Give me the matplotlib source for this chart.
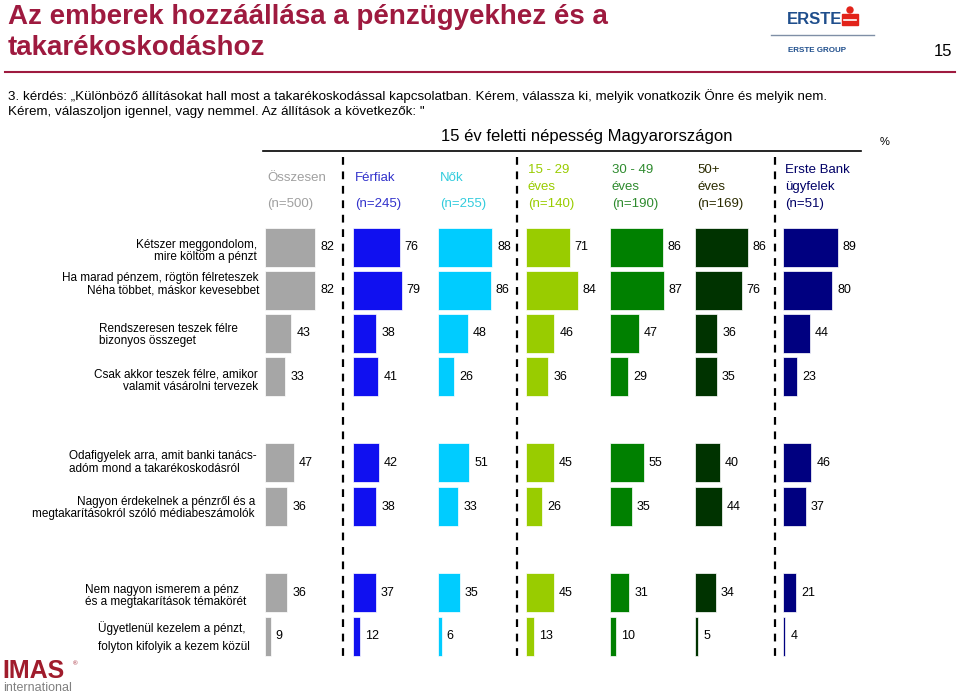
import numpy as np
import matplotlib
matplotlib.use("Agg")
import matplotlib.pyplot as plt

plt.rcParams['font.family'] = ['Liberation Sans', 'DejaVu Sans']

# survey answers, % of "yes"
statements = [
    "Kétszer meggondolom,\nmire költöm a pénzt",
    "Ha marad pénzem, rögtön félreteszek\nNéha többet, máskor kevesebbet",
    "Rendszeresen teszek félre\nbizonyos összeget",
    "Csak akkor teszek félre, amikor\nvalamit vásárolni tervezek",
    "Odafigyelek arra, amit banki tanács-\nadóm mond a takarékoskodásról",
    "Nagyon érdekelnek a pénzről és a\nmegtakarításokról szóló médiabeszámolók",
    "Nem nagyon ismerem a pénz\nés a megtakarítások témakörét",
    "Ügyetlenül kezelem a pénzt,\nfolyton kifolyik a kezem közül",
]
groups = ["Összesen", "Férfiak", "Nők", "15 - 29\néves", "30 - 49\néves", "50+\néves", "Erste Bank\nügyfelek"]
sample_sizes = ["(n=500)", "(n=245)", "(n=255)", "(n=140)", "(n=190)", "(n=169)", "(n=51)"]

osszesen = [82, 82, 43, 33, 47, 36, 36, 9]
ferfiak = [76, 79, 38, 41, 42, 38, 37, 12]
nok = [88, 86, 48, 26, 51, 33, 35, 6]
age_15_29 = [71, 84, 46, 36, 45, 26, 45, 13]
age_30_49 = [86, 87, 47, 29, 55, 35, 31, 10]
age_50_plus = [86, 76, 36, 35, 40, 44, 34, 5]
erste_ugyfelek = [89, 80, 44, 23, 46, 37, 21, 4]
series = [osszesen, ferfiak, nok, age_15_29, age_30_49, age_50_plus, erste_ugyfelek]

bar_colors = ["#A6A6A6", "#1010F0", "#00CCFF", "#99CC00", "#008000", "#003300", "#000080"]
head_colors = ["#A0A0A0", "#3333CC", "#33CCDD", "#99CC00", "#2E8B2E", "#2B2B00", "#000066"]
title_red = "#9E1A3F"

# layout (pixels of the 960x693 slide)
col_x = [265, 353, 438, 526, 610, 695, 783]
row_y = [247.5, 290, 333.5, 376.5, 462.5, 506.5, 592.5, 636]
px_per_pct = 0.615
bar_h = 39
label_pos = [(257, 'right', 251), (259, 'right', 284.5), (99, 'left', 335), (258, 'right', 381),
             (69, 'left', 462.5), (255, 'right', 508), (85, 'left', 596), (98, 'left', 637)]

fig = plt.figure(figsize=(9.6, 6.93), dpi=100)
ax = fig.add_axes([0, 0, 1, 1])
ax.set_xlim(0, 960)
ax.set_ylim(693, 0)
ax.axis('off')

# header
ax.text(8, 17, "Az emberek hozzáállása a pénzügyekhez és a", color=title_red,
        fontsize=20, fontweight='bold', va='center')
ax.text(8, 48, "takarékoskodáshoz", color=title_red, fontsize=20, fontweight='bold', va='center')
ax.plot([5, 955], [72, 72], color=title_red, lw=1.5)
ax.text(952, 52, "15", fontsize=12, ha='right', va='center')

# Erste logo
ax.text(787, 20, "ERSTE", color="#1F4E8C", fontsize=12, fontweight='bold', va='center')
ax.add_patch(plt.Rectangle((842, 14), 16, 11, color="#E2231A"))
ax.add_patch(plt.Circle((850, 10), 3, color="#E2231A"))
ax.plot([844, 856], [19.5, 19.5], color='white', lw=1.2)
ax.plot([771, 874], [35, 35], color="#7F8FA6", lw=1)
ax.text(788, 50, "ERSTE GROUP", color="#1F4E8C", fontsize=5.8, fontweight='bold', va='center')

ax.text(8, 96, "3. kérdés: „Különböző állításokat hall most a takarékoskodással kapcsolatban. "
        "Kérem, válassza ki, melyik vonatkozik Önre és melyik nem.", fontsize=9.6, va='center')
ax.text(8, 112, "Kérem, válaszoljon igennel, vagy nemmel. Az állítások a következők: \"",
        fontsize=9.6, va='center')

ax.text(587, 137, "15 év feletti népesség Magyarországon", fontsize=12, ha='center', va='center')
ax.plot([263, 861], [151, 151], color='black', lw=1.2)
ax.text(885, 142, "%", fontsize=8, ha='center', va='center')

for x, name, n, c in zip(col_x, groups, sample_sizes, head_colors):
    if "\n" in name:
        ax.text(x + 2, 178.5, name, color=c, fontsize=9.5, va='center', linespacing=1.45)
    else:
        ax.text(x + 2, 178, name, color=c, fontsize=9.5, va='center')
    ax.text(x + 2, 204, n, color=c, fontsize=9.5, va='center')

for x in [343, 517, 775]:
    ax.plot([x, x], [157, 658], color='black', lw=1.6, ls=(0, (3.5, 3)))

# bars
for x, vals, c in zip(col_x, series, bar_colors):
    widths = np.array(vals) * px_per_pct
    ax.barh(row_y, widths, left=x, height=bar_h, color=c, edgecolor='white', lw=0.5)
    for y, w, v in zip(row_y, widths, vals):
        ax.text(x + w + 5, y, str(v), fontsize=9, va='center')

for text, (x, ha, y) in zip(statements, label_pos):
    ls = 1.75 if text.startswith("Ügyetlen") else 1.1
    ax.text(x, y, text, fontsize=8.5, ha=ha, va='center', multialignment=ha, linespacing=ls)

# IMAS logo
ax.text(2, 671, "IMAS", color="#A01C2C", fontsize=18, fontweight='bold', va='center')
ax.text(73, 664, "®", color="#A01C2C", fontsize=4.5, va='center')
ax.text(3, 688, "international", color="#808080", fontsize=9, va='center')

fig.savefig("out.png", dpi=100)
